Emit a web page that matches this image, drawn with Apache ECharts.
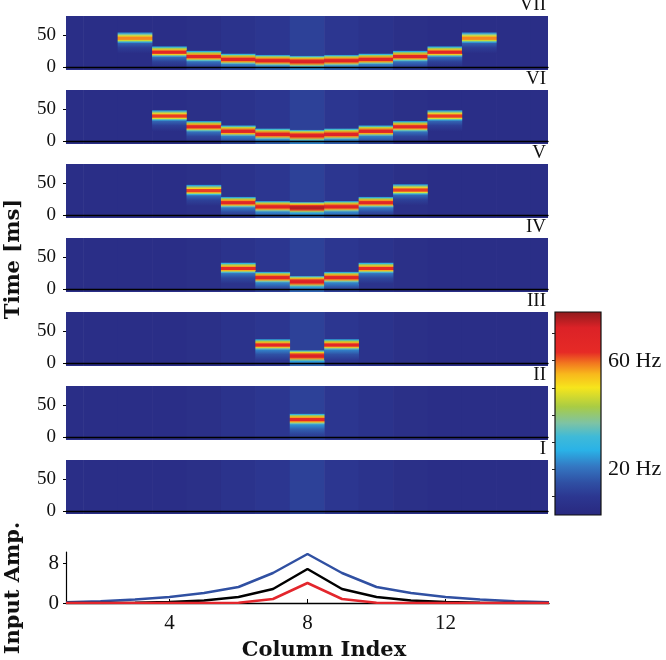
<!DOCTYPE html>
<html lang="en">
<head>
<meta charset="UTF-8" />
<title>Column Index</title>
<script src="https://cdn.jsdelivr.net/npm/echarts@6/dist/echarts.min.js"></script>
</head>
<body style="margin:0; background:#fff">
<div id="container" style="width:666px; height:660px"></div>
<script>
// panels, top to bottom
const panelNames = ['VII', 'VI', 'V', 'IV', 'III', 'II', 'I'];
const columns = [1, 2, 3, 4, 5, 6, 7, 8, 9, 10, 11, 12, 13, 14, 15];

// time of the firing band per column (ms), null = no band
const bandTimes = [
  [null, null, 45, 23, 16, 11.5, 9.5, 8, 9.5, 11.5, 16, 23, 45, null, null],
  [null, null, null, 39, 22, 15, 10, 8, 10, 15, 22, 39, null, null, null],
  [null, null, null, null, 38, 19, 12.5, 11, 12.5, 19, 39, null, null, null, null],
  [null, null, null, null, null, 32, 17.5, 11, 17.5, 32, null, null, null, null, null],
  [null, null, null, null, null, null, 28, 10.5, 28, null, null, null, null, null, null],
  [null, null, null, null, null, null, null, 27, null, null, null, null, null, null, null],
  [null, null, null, null, null, null, null, null, null, null, null, null, null, null, null]
];
// peak rate of the band (Hz)
const bandPeaks = [
  [null, null, 58, 66, 68, 69, 70, 71, 70, 69, 68, 66, 58, null, null],
  [null, null, null, 62, 68, 69, 70, 71, 70, 69, 68, 62, null, null, null],
  [null, null, null, null, 62, 68, 70, 75, 70, 68, 62, null, null, null, null],
  [null, null, null, null, null, 64, 69, 72, 69, 64, null, null, null, null, null],
  [null, null, null, null, null, null, 66, 72, 66, null, null, null, null, null, null],
  [null, null, null, null, null, null, null, 66, null, null, null, null, null, null, null],
  [null, null, null, null, null, null, null, null, null, null, null, null, null, null, null]
];
// background rate per column (Hz)
const baseRate = [6, 6, 6, 6, 6.5, 8, 9.5, 12, 9.5, 8, 6.5, 6, 6, 6, 6];

// input amplitude
const ampBlue = [0.15, 0.35, 0.7, 1.2, 2.0, 3.2, 6.0, 9.8, 6.0, 3.2, 2.0, 1.2, 0.7, 0.35, 0.15];
const ampBlack = [0, 0, 0.05, 0.2, 0.5, 1.2, 2.8, 6.8, 2.8, 1.2, 0.5, 0.2, 0.05, 0, 0];
const ampRed = [0, 0, 0, 0, 0, 0.05, 0.8, 4.0, 0.8, 0.05, 0, 0, 0, 0, 0];

// colour scale (Hz)
const rateMin = 3, rateMax = 78;
const jetStops = [
  [3, '#29287f'], [10, '#2c3791'], [15, '#2f4fa3'], [21, '#3477c2'],
  [27, '#2ab2e7'], [32, '#3fbad8'], [37, '#7ec3a4'], [43, '#a9cc44'],
  [50, '#f6e51c'], [55, '#f8b81c'], [59, '#f2771f'], [63, '#e62a26'],
  [72, '#dc2227'], [78, '#8e1b1d']
];
// shape of a band: [ms offset from centre, share of peak]
const bandProfile = [
  [10, 0], [8, 0.35], [6, 0.6], [3.5, 0.82], [1.8, 1], [-1.8, 1],
  [-3.5, 0.78], [-6, 0.45], [-8, 0.22], [-15, 0.1], [-24, 0]
];

const serif = '"Liberation Serif", serif';
const bold = 'bold 21px "DejaVu Serif", serif';

function hexRgb(h) {
  return [1, 3, 5].map(i => parseInt(h.substr(i, 2), 16));
}
function rateColor(v) {
  if (v <= jetStops[0][0]) return jetStops[0][1];
  for (let i = 1; i < jetStops.length; i++) {
    if (v <= jetStops[i][0]) {
      const a = jetStops[i - 1], b = jetStops[i];
      const f = (v - a[0]) / (b[0] - a[0]);
      const ca = hexRgb(a[1]), cb = hexRgb(b[1]);
      const c = ca.map((x, k) => Math.round(x + (cb[k] - x) * f));
      return 'rgb(' + c.join(',') + ')';
    }
  }
  return jetStops[jetStops.length - 1][1];
}

function renderBg(params, api) {
  const c = api.value(0);
  const p0 = api.coord([c - 0.5, 80]);
  const p1 = api.coord([c + 0.5, -5]);
  return {
    type: 'rect',
    shape: { x: p0[0], y: p0[1], width: p1[0] - p0[0] + 0.6, height: p1[1] - p0[1] },
    style: { fill: rateColor(api.value(1)) }
  };
}

function renderBand(params, api) {
  const c = api.value(0), t = api.value(1), peak = api.value(2), base = api.value(3);
  const top = bandProfile[0][0], bot = bandProfile[bandProfile.length - 1][0];
  const p0 = api.coord([c - 0.5, t + top]);
  const p1 = api.coord([c + 0.5, t + bot]);
  const stops = bandProfile.map(p => ({
    offset: (top - p[0]) / (top - bot),
    color: rateColor(base + (peak - base) * p[1])
  }));
  return {
    type: 'rect',
    shape: { x: p0[0], y: p0[1], width: p1[0] - p0[0] + 0.3, height: p1[1] - p0[1] },
    style: { fill: new echarts.graphic.LinearGradient(0, 0, 0, 1, stops) }
  };
}

function renderColorbar(params, api) {
  const cs = params.coordSys;
  const stops = jetStops.map(s => ({ offset: (rateMax - s[0]) / (rateMax - rateMin), color: s[1] }));
  return {
    type: 'rect',
    shape: { x: cs.x, y: cs.y, width: cs.width, height: cs.height },
    style: { fill: new echarts.graphic.LinearGradient(0, 0, 0, 1, stops), stroke: '#111', lineWidth: 1.2 }
  };
}

const grids = [], xAxes = [], yAxes = [], series = [], graphics = [];
const panelTop = 16, panelPitch = 74, panelH = 54;

panelNames.forEach((name, i) => {
  const top = panelTop + i * panelPitch;
  grids.push({ left: 66, width: 482, top: top, height: panelH });
  xAxes.push({
    gridIndex: i, type: 'value', min: 1, max: 15, z: 5,
    axisLine: { show: true, lineStyle: { color: '#000', width: 1.4 } },
    axisTick: { show: false }, axisLabel: { show: false }, splitLine: { show: false }
  });
  yAxes.push({
    gridIndex: i, type: 'value', min: -5, max: 80,
    axisLine: { show: false },
    axisTick: { show: true, length: 3, lineStyle: { color: '#000' }, customValues: [0, 50] },
    axisLabel: { customValues: [0, 50], margin: 10, color: '#111', fontFamily: serif, fontSize: 19 },
    splitLine: { show: false }
  });
  series.push({
    type: 'custom', xAxisIndex: i, yAxisIndex: i, clip: true, silent: true,
    renderItem: renderBg,
    data: columns.map((c, k) => [c, baseRate[k]])
  });
  const bands = [];
  columns.forEach((c, k) => {
    if (bandTimes[i][k] != null) bands.push([c, bandTimes[i][k], bandPeaks[i][k], baseRate[k]]);
  });
  series.push({
    type: 'custom', xAxisIndex: i, yAxisIndex: i, clip: true, silent: true,
    renderItem: renderBand,
    data: bands
  });
  graphics.push({
    type: 'text', x: 546, y: top - 1, z: 10,
    style: { text: name, font: '19px ' + serif, fill: '#111', textAlign: 'right', textVerticalAlign: 'bottom' }
  });
});

// input amplitude panel
grids.push({ left: 66, width: 483, top: 552, height: 51 });
xAxes.push({
  gridIndex: 7, type: 'value', min: 1, max: 15,
  axisLine: { show: true, lineStyle: { color: '#000', width: 1.4 } },
  axisTick: { show: true, inside: true, length: 4, lineStyle: { color: '#000' }, customValues: [4, 8, 12] },
  axisLabel: { customValues: [4, 8, 12], margin: 10, color: '#111', fontFamily: serif, fontSize: 21 },
  splitLine: { show: false }
});
yAxes.push({
  gridIndex: 7, type: 'value', min: 0, max: 10.2,
  axisLine: { show: true, lineStyle: { color: '#000', width: 1.2 } },
  axisTick: { show: true, length: 3, lineStyle: { color: '#000' }, customValues: [0, 8] },
  axisLabel: { customValues: [0, 8], margin: 7, color: '#111', fontFamily: serif, fontSize: 21 },
  splitLine: { show: false }
});
[[ampBlue, '#3050a2'], [ampBlack, '#000000'], [ampRed, '#e3262c']].forEach(s => {
  series.push({
    type: 'line', xAxisIndex: 7, yAxisIndex: 7, symbol: 'none', silent: true,
    lineStyle: { color: s[1], width: 2.5 },
    data: columns.map((c, k) => [c, s[0][k]])
  });
});

// colour bar
grids.push({ left: 555, width: 46, top: 312, height: 203 });
xAxes.push({ gridIndex: 8, type: 'value', min: 0, max: 1, show: false });
yAxes.push({
  gridIndex: 8, type: 'value', min: rateMin, max: rateMax, position: 'right', z: 5,
  axisLine: { show: false },
  axisTick: { show: true, inside: true, length: 3, lineStyle: { color: '#222' }, customValues: [10, 20, 30, 40, 50, 60, 70] },
  axisLabel: { customValues: [20, 60], formatter: '{value} Hz', margin: 7, color: '#111', fontFamily: serif, fontSize: 22 },
  splitLine: { show: false }
});
series.push({
  type: 'custom', xAxisIndex: 8, yAxisIndex: 8, silent: true,
  renderItem: renderColorbar,
  data: [[0.5, 40]]
});

graphics.push(
  { type: 'text', x: 14, y: 259, rotation: Math.PI / 2,
    style: { text: 'Time [ms]', font: bold, fill: '#111', textAlign: 'center', textVerticalAlign: 'middle' } },
  { type: 'text', x: 14, y: 588, rotation: Math.PI / 2,
    style: { text: 'Input Amp.', font: bold, fill: '#111', textAlign: 'center', textVerticalAlign: 'middle' } },
  { type: 'text', x: 324, y: 651,
    style: { text: 'Column Index', font: bold, fill: '#111', textAlign: 'center', textVerticalAlign: 'middle' } }
);

const chart = echarts.init(document.getElementById('container'), null, { renderer: 'canvas' });
chart.setOption({
  animation: false,
  backgroundColor: '#fff',
  grid: grids,
  xAxis: xAxes,
  yAxis: yAxes,
  series: series,
  graphic: graphics
});
</script>
</body>
</html>
